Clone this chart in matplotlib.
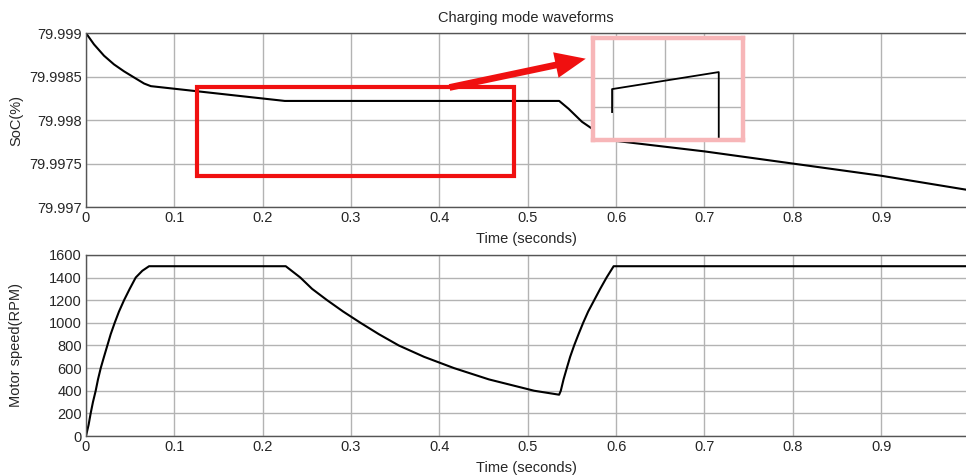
import matplotlib.pyplot as plt
from matplotlib.patches import Rectangle, FancyArrowPatch

plt.rcParams['font.family'] = ['Liberation Sans', 'DejaVu Sans']

# SoC trace (top panel)
soc_t = [0, 0.0091, 0.0204, 0.0317, 0.0431, 0.0544, 0.0658, 0.0734, 0.225,
         0.5356, 0.5462, 0.5614, 0.5917, 0.7, 0.8, 0.9, 0.996]
soc_v = [79.999, 79.99887, 79.99874, 79.99864, 79.99856, 79.99849, 79.99842,
         79.99839, 79.99822, 79.99822, 79.99813, 79.99798, 79.99777, 79.99764,
         79.9975, 79.99736, 79.9972]

# motor speed trace (bottom panel)
speed_t = [0, 0.003, 0.0053, 0.0079, 0.011, 0.0136, 0.0167, 0.0204, 0.0242,
           0.028, 0.0325, 0.0374, 0.0431, 0.0495, 0.0563, 0.0638, 0.0714,
           0.2261, 0.2426, 0.2559, 0.2729, 0.291, 0.3107, 0.3314, 0.354,
           0.3825, 0.4165, 0.4561, 0.5072, 0.5355, 0.5374, 0.5405, 0.5442,
           0.548, 0.5525, 0.5575, 0.5627, 0.5684, 0.5752, 0.582, 0.5892,
           0.5972, 0.996]
speed_v = [0, 100, 200, 300, 400, 500, 600, 700, 800, 900, 1000, 1100, 1200,
           1300, 1400, 1460, 1500, 1500, 1400, 1300, 1200, 1100, 1000, 900,
           800, 700, 600, 500, 400, 365, 400, 500, 600, 700, 800, 900, 1000,
           1100, 1200, 1300, 1400, 1500, 1500]

# zoomed detail shown in the pink inset (inset's own 0..1 units)
inset_x = [0.128, 0.128, 0.839, 0.839]
inset_y = [0.275, 0.50, 0.667, 0.03]

x_ticks = [0, 0.1, 0.2, 0.3, 0.4, 0.5, 0.6, 0.7, 0.8, 0.9]
x_labels = ['0', '0.1', '0.2', '0.3', '0.4', '0.5', '0.6', '0.7', '0.8', '0.9']
soc_ticks = [79.997, 79.9975, 79.998, 79.9985, 79.999]
soc_labels = ['79.997', '79.9975', '79.998', '79.9985', '79.999']
speed_ticks = [0, 200, 400, 600, 800, 1000, 1200, 1400, 1600]

txt = '#262626'
grid_c = '#b3b3b3'

fig = plt.figure(figsize=(9.66, 4.76), dpi=100)
ax1 = fig.add_axes([0.089, 0.565, 0.911, 0.3655])
ax2 = fig.add_axes([0.089, 0.084, 0.911, 0.3805])


def style(ax):
    ax.set_xlim(0, 0.996)
    ax.set_xticks(x_ticks)
    ax.set_xticklabels(x_labels)
    ax.grid(True, color=grid_c, lw=1.0)
    ax.set_axisbelow(True)
    ax.tick_params(length=0, labelsize=10.5, colors=txt, pad=3)
    for s in ['left', 'bottom', 'top']:
        ax.spines[s].set_color('#555555')
        ax.spines[s].set_linewidth(1.0)
    ax.spines['right'].set_visible(False)
    ax.set_xlabel('Time (seconds)', fontsize=10.5, color=txt, labelpad=5)
    ax.yaxis.set_label_coords(-0.0715, 0.5)


ax1.plot(soc_t, soc_v, color='black', lw=1.5)
style(ax1)
ax1.set_ylim(79.997, 79.999)
ax1.set_yticks(soc_ticks)
ax1.set_yticklabels(soc_labels)
ax1.set_ylabel('SoC(%)', fontsize=10.5, color=txt)
ax1.set_title('Charging mode waveforms', fontsize=10.5, color=txt, pad=8)

ax2.plot(speed_t, speed_v, color='black', lw=1.5)
style(ax2)
ax2.set_ylim(0, 1600)
ax2.set_yticks(speed_ticks)
ax2.set_ylabel('Motor speed(RPM)', fontsize=10.5, color=txt)

# red highlight box and arrow
ax1.add_patch(Rectangle((0.126, 0.178), 0.36, 0.512, transform=ax1.transAxes,
                        fill=False, edgecolor='#f01010', lw=3.0, zorder=5))
ax1.add_patch(FancyArrowPatch((0.41, 0.684), (0.571, 0.856),
                              transform=ax1.transAxes,
                              arrowstyle='simple,head_length=1.0,head_width=0.85,tail_width=0.22',
                              mutation_scale=22, color='#f01010', lw=0, zorder=6))

# pink inset
ins = ax1.inset_axes([0.576, 0.385, 0.1705, 0.586])
ins.set_facecolor('white')
ins.plot(inset_x, inset_y, color='black', lw=1.3)
ins.set_xlim(0, 1)
ins.set_ylim(0, 1)
ins.set_xticks([0.134, 0.483])
ins.set_yticks([0.324, 0.608])
ins.grid(True, color=grid_c, lw=1.0)
ins.tick_params(length=0, labelbottom=False, labelleft=False)
for s in ins.spines.values():
    s.set_color('#f7b6b8')
    s.set_linewidth(3.2)
ins.set_zorder(7)

fig.savefig('out.png', dpi=100, facecolor='white')
